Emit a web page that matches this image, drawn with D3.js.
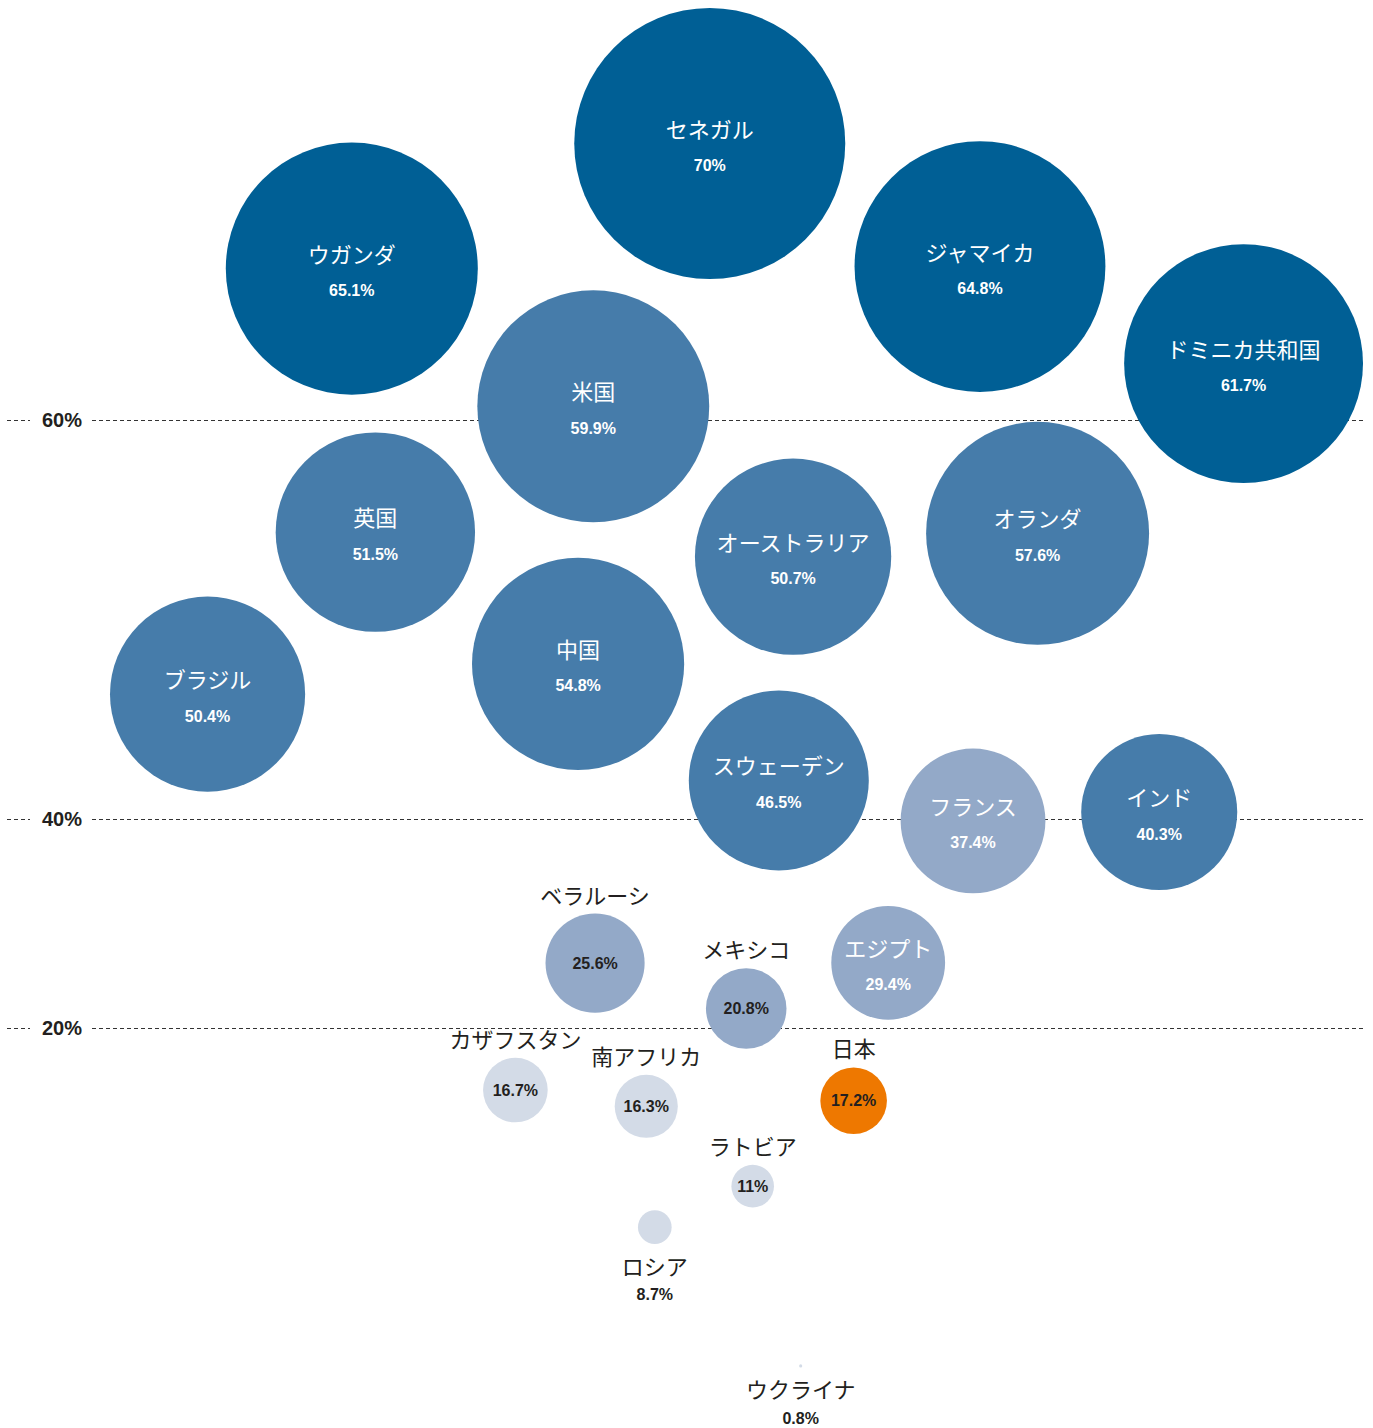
<!DOCTYPE html>
<html>
<head>
<meta charset="utf-8">
<script src="https://cdn.jsdelivr.net/npm/d3@7"></script>
<style>
body { margin: 0; background: #fff; }
svg { display: block; }
.name { font-family: "Noto Sans CJK JP", sans-serif; font-size: 22px; }
.val { font-family: "Liberation Sans", Arial, sans-serif; font-weight: bold; font-size: 16px; }
.grid text { font-family: "Liberation Sans", Arial, sans-serif; font-weight: bold; font-size: 20px; fill: #231f20; }
.grid line { stroke: #333; stroke-dasharray: 4,3; }
</style>
</head>
<body>
<svg width="1373" height="1428"></svg>
<script>
var countries = ["セネガル", "ウガンダ", "ジャマイカ", "ドミニカ共和国", "米国", "オランダ", "中国", "英国",
  "オーストラリア", "ブラジル", "スウェーデン", "インド", "フランス", "エジプト", "ベラルーシ", "メキシコ",
  "日本", "カザフスタン", "南アフリカ", "ラトビア", "ロシア", "ウクライナ"];
var values = [70, 65.1, 64.8, 61.7, 59.9, 57.6, 54.8, 51.5, 50.7, 50.4, 46.5, 40.3, 37.4, 29.4, 25.6, 20.8,
  17.2, 16.7, 16.3, 11, 8.7, 0.8];
var yTicks = [20, 40, 60];
var highlight = "日本";

var svg = d3.select("svg");
var left = 92, right = 1363;
var cx = 736;

// grid positions are not evenly spaced in the original, so piecewise scale
var yScale = d3.scaleLinear()
  .domain([0, 20, 40, 60, 70])
  .range([1380, 1028, 819, 420, 145]);
var rScale = d3.scaleLinear().domain([0, 70]).range([0, 135.5]);
var color = d3.scaleThreshold()
  .domain([20, 40, 60])
  .range(["#d3dbe7", "#93a9c8", "#467caa", "#005f95"]);

// label placement: inside / name above / both below
function mode(v) {
  if (v >= 28) return "in";
  if (v >= 10) return "above";
  return "below";
}

var grid = svg.append("g")
  .attr("class", "grid")
  .attr("transform", "translate(" + left + ",0)")
  .call(d3.axisLeft(yScale)
    .tickValues(yTicks)
    .tickSize(-(right - left))
    .tickPadding(10)
    .tickFormat(function(d) { return d + "%"; }));
grid.select(".domain").remove();
grid.selectAll(".tick").append("line")
  .attr("x1", 7 - left)
  .attr("x2", 30 - left);

var nodes = countries.map(function(c, i) {
  return { name: c, value: values[i], r: rScale(values[i]) };
});

var sim = d3.forceSimulation(nodes)
  .force("x", d3.forceX(cx).strength(0.01))
  .force("y", d3.forceY(function(d) { return yScale(d.value); }).strength(0.2))
  .force("collide", d3.forceCollide(function(d) {
    return mode(d.value) == "in" ? d.r + 18 : d.r + 34;
  }).iterations(4))
  .stop();
// d3 seeds nodes around the origin; move the seed to the chart centre
nodes.forEach(function(d) {
  d.x += cx;
  d.y += yScale(d.value);
});
for (var i = 0; i < 600; i++) {
  sim.tick();
  nodes.forEach(function(d) {
    d.x = Math.max(110 + d.r, Math.min(right - d.r, d.x));
    d.y = Math.max(8 + d.r, d.y);
  });
}

var bubble = svg.append("g")
  .selectAll("g")
  .data(nodes)
  .enter().append("g")
  .attr("transform", function(d) { return "translate(" + d.x + "," + d.y + ")"; });

bubble.append("circle")
  .attr("r", function(d) { return d.r; })
  .attr("fill", function(d) { return d.name == highlight ? "#ee7800" : color(d.value); });

bubble.append("text")
  .attr("class", "name")
  .attr("text-anchor", "middle")
  .attr("dominant-baseline", "central")
  .attr("fill", function(d) { return mode(d.value) == "in" ? "#fff" : "#231f20"; })
  .attr("y", function(d) {
    var m = mode(d.value);
    if (m == "in") return -16;
    if (m == "above") return -d.r - 20;
    return d.r + 21;
  })
  .text(function(d) { return d.name; });

bubble.append("text")
  .attr("class", "val")
  .attr("text-anchor", "middle")
  .attr("dominant-baseline", "central")
  .attr("fill", function(d) { return mode(d.value) == "in" ? "#fff" : "#231f20"; })
  .attr("y", function(d) {
    var m = mode(d.value);
    if (m == "in") return 22;
    if (m == "above") return 0;
    return d.r + 51;
  })
  .text(function(d) { return d.value + "%"; });
</script>
</body>
</html>
